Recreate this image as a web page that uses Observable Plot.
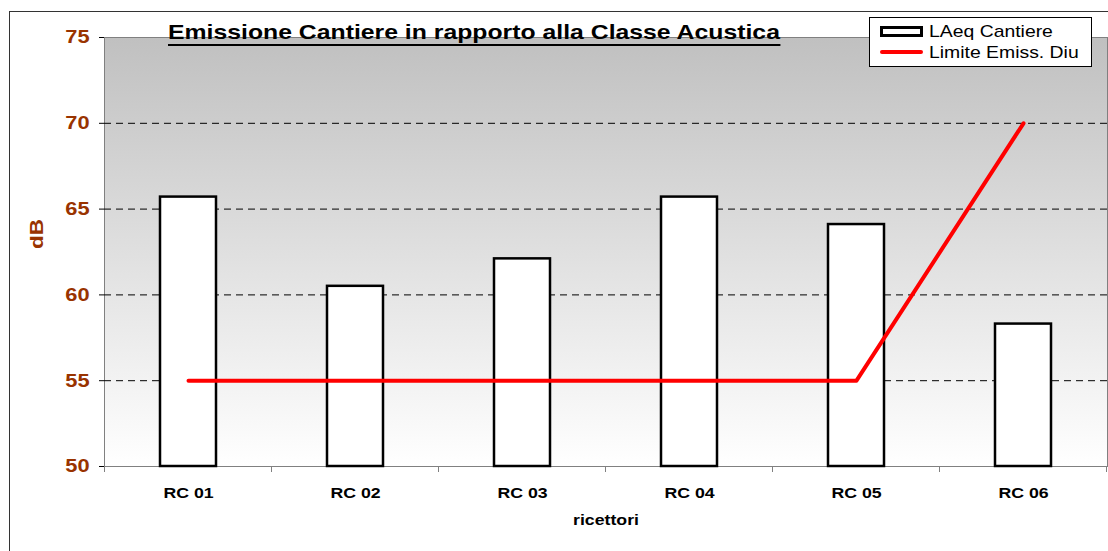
<!DOCTYPE html>
<html>
<head>
<meta charset="utf-8">
<script src="https://cdn.jsdelivr.net/npm/d3@7"></script>
<script src="https://cdn.jsdelivr.net/npm/@observablehq/plot@0.6"></script>
<style>
  html, body { margin: 0; padding: 0; background: #fff; overflow: hidden; }
  #wrap { position: relative; width: 1108px; height: 551px; overflow: hidden; font-family: "Liberation Sans", Arial, sans-serif; }
  #chart { position: absolute; left: 0; top: 0; }
  #border { position: absolute; left: 9px; top: 11px; width: 1200px; height: 700px; border: 1px solid #333; pointer-events: none; }
  #title { position: absolute; left: 168px; top: 20.5px; font-weight: bold; font-size: 21px; line-height: 21px;
           padding-bottom: 2px; border-bottom: 2px solid #000; transform: scaleX(1.18); transform-origin: left top; white-space: nowrap; color: #000; }
  #legend { position: absolute; left: 869px; top: 17px; width: 223px; height: 50px; box-sizing: border-box; border: 1px solid #000; background: #fff; }
  .sw-rect { position: absolute; left: 10px; top: 8px; width: 43px; height: 11px; box-sizing: border-box; border: 3px solid #000; background: #fff; }
  .sw-line { position: absolute; left: 10px; top: 32px; width: 43px; height: 4px; background: #ff0000; border-radius: 2px; }
  .lg-text { position: absolute; left: 59px; font-size: 17px; line-height: 17px; white-space: nowrap; transform: scaleX(1.14); transform-origin: left top; color: #000; }
</style>
</head>
<body>
<div id="wrap">
  <div id="chart"></div>
  <div id="title"></div>
  <div id="legend"></div>
  <div id="border"></div>
</div>
<script>
// ---- data ----
const categories = ["RC 01", "RC 02", "RC 03", "RC 04", "RC 05", "RC 06"];
const laeqCantiere = [65.7, 60.5, 62.1, 65.7, 64.1, 58.3];
const limiteEmiss = [55, 55, 55, 55, 55, 70];
const yTicks = [50, 55, 60, 65, 70, 75];
const gridValues = [55, 60, 65, 70];
const seriesNames = ["LAeq Cantiere", "Limite Emiss. Diu"];
const titleText = "Emissione Cantiere in rapporto alla Classe Acustica";
const yLabel = "dB";
const xLabel = "ricettori";

const rows = categories.map((c, i) => ({c, laeq: laeqCantiere[i], lim: limiteEmiss[i]}));
const brown = "#993300";

// gradient defs
function gradientDefs() {
  const defs = d3.create("svg:defs");
  const lg = defs.append("linearGradient").attr("id", "bgGrad")
    .attr("x1", 0).attr("y1", 0).attr("x2", 0).attr("y2", 1);
  lg.append("stop").attr("offset", "0%").attr("stop-color", "#c0c0c0");
  lg.append("stop").attr("offset", "100%").attr("stop-color", "#ffffff");
  return defs.node();
}

// ticks at category boundaries
function bandBoundaryTicks(index, scales, values, dimensions) {
  const x = scales.x;
  const bw = typeof x.bandwidth === "function" ? x.bandwidth() : x.bandwidth;
  const xs = categories.map(c => x(c));
  const step = xs[1] - xs[0];
  const bounds = xs.map(v => v + bw / 2 - step / 2).concat([xs[xs.length - 1] + bw / 2 + step / 2]);
  const y0 = dimensions.height - dimensions.marginBottom;
  const g = d3.create("svg:g");
  g.selectAll("line").data(bounds).join("line")
    .attr("x1", d => d).attr("x2", d => d)
    .attr("y1", y0).attr("y2", y0 + 6)
    .attr("stroke", "#808080").attr("stroke-width", 1);
  return g.node();
}

const plot = Plot.plot({
  width: 1108,
  height: 551,
  marginLeft: 104,
  marginRight: 1,
  marginTop: 37,
  marginBottom: 85,
  style: {background: "transparent", fontFamily: "'Liberation Sans', Arial, sans-serif", overflow: "visible"},
  x: {domain: categories, paddingInner: 2 / 3, paddingOuter: 1 / 3, label: null},
  y: {domain: [50, 75], label: null},
  marks: [
    gradientDefs,
    Plot.frame({fill: "url(#bgGrad)", stroke: "#808080"}),
    Plot.ruleY(gridValues, {stroke: "#000", strokeWidth: 1, strokeDasharray: "7,5"}),
    Plot.barY(rows, {x: "c", y1: 50, y2: "laeq", fill: "#fff", stroke: "#000", strokeWidth: 2.5}),
    Plot.lineY(rows, {x: "c", y: "lim", stroke: "#ff0000", strokeWidth: 4, strokeLinecap: "round", strokeLinejoin: "round"}),
    Plot.axisY({ticks: yTicks, tickSize: 5, tickPadding: 10, fontSize: 18.5, fontWeight: "bold", fill: brown, stroke: "#000", label: null}),
    Plot.axisX({tickSize: 0, tickPadding: 21, fontSize: 15, fontWeight: "bold", fill: "#000", label: null}),
    bandBoundaryTicks,
    Plot.text([yLabel], {frameAnchor: "left", dx: -67.5, dy: -3, rotate: -90, fontSize: 19, fontWeight: "bold", fill: brown}),
    Plot.text([xLabel], {frameAnchor: "bottom", dy: 58, fontSize: 15, fontWeight: "bold", fill: "#000"})
  ]
});

document.getElementById("chart").appendChild(plot);

// horizontal stretch of the texts, like the original rendering (position untouched)
plot.querySelectorAll("text").forEach(t => {
  const L = t.getComputedTextLength();
  if (L > 0) {
    t.setAttribute("textLength", (L * 1.18).toFixed(2));
    t.setAttribute("lengthAdjust", "spacingAndGlyphs");
  }
});

document.getElementById("title").textContent = titleText;

const legend = document.getElementById("legend");
legend.innerHTML = `<div class="sw-rect"></div><div class="lg-text" style="top:4.6px"></div>
<div class="sw-line"></div><div class="lg-text" style="top:25.6px"></div>`;
const lt = legend.querySelectorAll(".lg-text");
lt[0].textContent = seriesNames[0];
lt[1].textContent = seriesNames[1];
</script>
</body>
</html>
